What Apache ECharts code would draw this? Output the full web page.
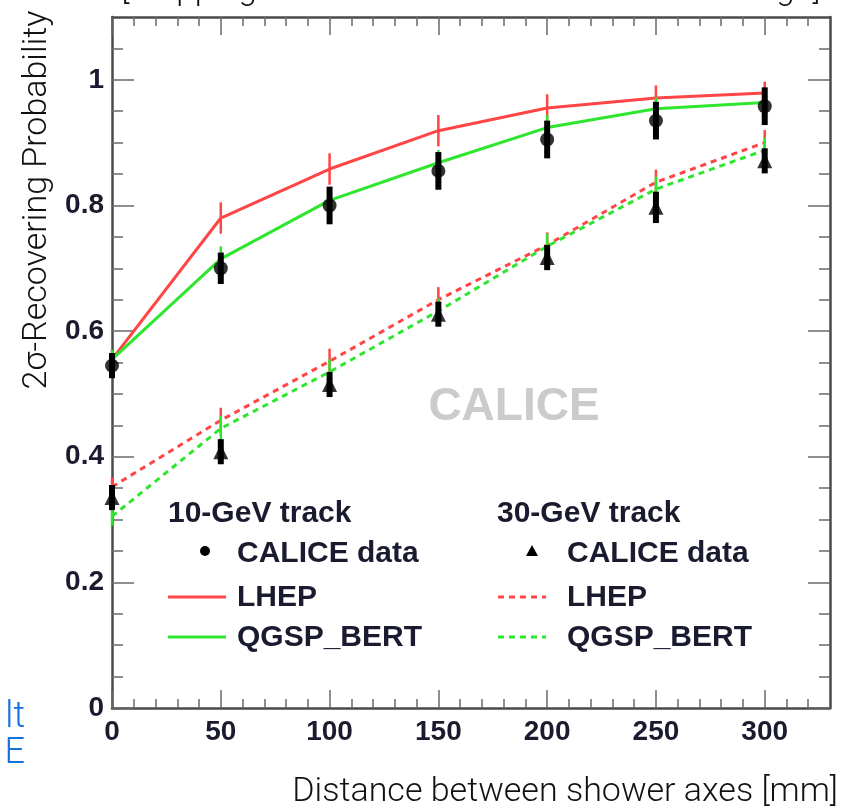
<!DOCTYPE html>
<html><head><meta charset="utf-8">
<script src="https://cdn.jsdelivr.net/npm/echarts@6/dist/echarts.min.js"></script>
<style>html,body{margin:0;padding:0;background:#fff}#c{width:844px;height:810px}</style>
</head><body><div id="c"></div>
<script>
// ---- data ----
const xValues = [0, 50, 100, 150, 200, 250, 300];
// 10-GeV track
const data10    = [0.545, 0.700, 0.800, 0.855, 0.905, 0.935, 0.958];
const data10Err = [0.020, 0.025, 0.030, 0.030, 0.030, 0.030, 0.030];
const lhep10    = [0.555, 0.780, 0.858, 0.919, 0.955, 0.971, 0.979];
const lhep10Err = [0.015, 0.025, 0.025, 0.025, 0.022, 0.020, 0.018];
const qgsp10    = [0.555, 0.715, 0.808, 0.868, 0.924, 0.954, 0.964];
const qgsp10Err = [0.015, 0.020, 0.020, 0.020, 0.020, 0.018, 0.018];
// 30-GeV track
const data30    = [0.335, 0.408, 0.515, 0.627, 0.717, 0.797, 0.871];
const data30Err = [0.020, 0.020, 0.020, 0.020, 0.020, 0.025, 0.020];
const lhep30    = [0.352, 0.458, 0.552, 0.650, 0.737, 0.837, 0.900];
const lhep30Err = [0.015, 0.020, 0.020, 0.020, 0.020, 0.020, 0.020];
const qgsp30    = [0.305, 0.445, 0.535, 0.632, 0.735, 0.826, 0.888];
const qgsp30Err = [0.015, 0.020, 0.020, 0.020, 0.020, 0.020, 0.020];
// ticks
const xMajorTicks = [0, 50, 100, 150, 200, 250, 300];
const xMinorTicks = [10, 20, 30, 40, 60, 70, 80, 90, 110, 120, 130, 140, 160, 170, 180, 190, 210, 220, 230, 240, 260, 270, 280, 290, 310, 320];
const yMajorTicks = [0, 0.2, 0.4, 0.6, 0.8, 1];
const yMinorTicks = [0.05, 0.1, 0.15, 0.25, 0.3, 0.35, 0.45, 0.5, 0.55, 0.65, 0.7, 0.75, 0.85, 0.9, 0.95, 1.05];
// texts
const titleText = '[mapping real test beam data to detector design]';
const yName = '2σ-Recovering Probability';
const xName = 'Distance between shower axes [mm]';

// ---- style ----
const RED = '#ff4545', GREEN = '#2ee62e', FRAME = '#4a4a4a', TICK = '#6a6a6a';
const LBL = '#1b1b30';
const tickFont = {fontFamily: 'Liberation Sans', fontWeight: 'bold', fontSize: 28, color: LBL};
const lightFont = 'Roboto';

function pairs(vals) { return xValues.map((x, i) => [x, vals[i]]); }
function errData(vals, errs) { return xValues.map((x, i) => [x, vals[i] - errs[i], vals[i] + errs[i]]); }
function errSeries(vals, errs, color, width, z) {
  return {
    type: 'custom', z: z, silent: true,
    data: errData(vals, errs),
    encode: {x: 0, y: [1, 2]},
    renderItem: (params, api) => {
      const p1 = api.coord([api.value(0), api.value(1)]);
      const p2 = api.coord([api.value(0), api.value(2)]);
      return {type: 'line', shape: {x1: p1[0], y1: p1[1], x2: p2[0], y2: p2[1]},
              style: {stroke: color, lineWidth: width}};
    }
  };
}
function lineSeries(vals, color, dashed) {
  return {type: 'line', data: pairs(vals), showSymbol: false, symbol: 'none', z: 2, silent: true,
          lineStyle: {color: color, width: 3, type: dashed ? [6, 5] : 'solid'}};
}

function xAx(pos, ticks, len, labels, line) {
  return {type: 'value', min: 0, max: 330, position: pos, gridIndex: 0,
    axisLine: {show: line, onZero: false, lineStyle: {color: FRAME, width: 2.5}},
    axisTick: {show: true, inside: true, length: len, customValues: ticks, lineStyle: {color: TICK, width: 1.5}},
    axisLabel: labels ? Object.assign({show: true, margin: 10, customValues: ticks}, tickFont) : {show: false},
    splitLine: {show: false}};
}
function yAx(pos, ticks, len, labels, line) {
  return {type: 'value', min: 0, max: 1.1, position: pos, gridIndex: 0,
    axisLine: {show: line, onZero: false, lineStyle: {color: FRAME, width: 2.5}},
    axisTick: {show: true, inside: true, length: len, customValues: ticks, lineStyle: {color: TICK, width: 1.5}},
    axisLabel: labels ? Object.assign({show: true, margin: 8, customValues: ticks,
        formatter: v => String(Math.round(v * 10) / 10)}, tickFont) : {show: false},
    splitLine: {show: false}};
}

const legendFont = {fontFamily: 'Liberation Sans', fontWeight: 'bold', fontSize: 30, fill: LBL};
function gText(x, y, t, extra) {
  return {type: 'text', x: x, y: y, silent: true,
    style: Object.assign({text: t, textAlign: 'left', textVerticalAlign: 'middle', align: 'left', verticalAlign: 'middle'}, legendFont, extra || {})};
}

const chart = echarts.init(document.getElementById('c'), null, {renderer: 'canvas'});
chart.setOption({
  animation: false,
  backgroundColor: '#ffffff',
  grid: {left: 112, right: 14, top: 17, bottom: 102, containLabel: false},
  xAxis: [
    xAx('bottom', xMajorTicks, 18, true, true),
    xAx('bottom', xMinorTicks, 9, false, false),
    xAx('top', xMajorTicks, 18, false, true),
    xAx('top', xMinorTicks, 9, false, false)
  ],
  yAxis: [
    yAx('left', yMajorTicks, 22, true, true),
    yAx('left', yMinorTicks, 11, false, false),
    yAx('right', yMajorTicks, 22, false, true),
    yAx('right', yMinorTicks, 11, false, false)
  ],
  series: [
    lineSeries(lhep10, RED, false),
    lineSeries(qgsp10, GREEN, false),
    lineSeries(lhep30, RED, true),
    lineSeries(qgsp30, GREEN, true),
    errSeries(lhep10, lhep10Err, RED, 2.5, 3),
    errSeries(qgsp10, qgsp10Err, GREEN, 2.5, 3),
    errSeries(lhep30, lhep30Err, RED, 2.5, 3),
    errSeries(qgsp30, qgsp30Err, GREEN, 2.5, 3),
    errSeries(data10, data10Err, '#000', 6, 5),
    errSeries(data30, data30Err, '#000', 6, 5),
    {type: 'scatter', data: pairs(data10), symbol: 'circle', symbolSize: 14, z: 6, silent: true,
     itemStyle: {color: '#000'}},
    {type: 'scatter', data: pairs(data30), symbol: 'triangle', symbolSize: 15, z: 6, silent: true,
     itemStyle: {color: '#000'}}
  ],
  graphic: [
    // slide texts
    {type: 'text', x: 471, y: -9, silent: true, style: {text: titleText, fontFamily: lightFont, fontWeight: 300, fontSize: 33, fill: '#111',
      textAlign: 'center', textVerticalAlign: 'middle', align: 'center', verticalAlign: 'middle'}},
    {type: 'text', x: 37, y: 200, rotation: Math.PI / 2, silent: true, style: {text: yName, fontFamily: lightFont, fontWeight: 300, fontSize: 34, fill: '#111',
      textAlign: 'center', textVerticalAlign: 'middle', align: 'center', verticalAlign: 'middle'}},
    {type: 'text', x: 838, y: 792, silent: true, style: {text: xName, fontFamily: lightFont, fontWeight: 300, fontSize: 34, fill: '#111',
      textAlign: 'right', textVerticalAlign: 'middle', align: 'right', verticalAlign: 'middle'}},
    {type: 'text', x: 25, y: 718, silent: true, style: {text: 'lt', fontFamily: lightFont, fontWeight: 300, fontSize: 36, fill: '#1670e0',
      textAlign: 'right', textVerticalAlign: 'middle', align: 'right', verticalAlign: 'middle'}},
    {type: 'text', x: 25, y: 754, silent: true, style: {text: 'E', fontFamily: lightFont, fontWeight: 300, fontSize: 36, fill: '#1670e0',
      textAlign: 'right', textVerticalAlign: 'middle', align: 'right', verticalAlign: 'middle'}},
    // watermark
    {type: 'text', x: 514, y: 407, z: -1, silent: true, style: {text: 'CALICE', fontFamily: 'Liberation Sans', fontWeight: 'bold', fontSize: 46, fill: '#cbcbcb',
      textAlign: 'center', textVerticalAlign: 'middle', align: 'center', verticalAlign: 'middle'}},
    // legend
    gText(168, 514, '10-GeV track'),
    gText(497, 514, '30-GeV track'),
    {type: 'circle', shape: {cx: 205, cy: 551, r: 5}, style: {fill: '#000'}, silent: true},
    gText(237, 554, 'CALICE data'),
    {type: 'polygon', shape: {points: [[532, 545], [526, 556], [538, 556]]}, style: {fill: '#000'}, silent: true},
    gText(567, 554, 'CALICE data'),
    {type: 'line', shape: {x1: 168, y1: 597, x2: 226, y2: 597}, style: {stroke: RED, lineWidth: 3}, silent: true},
    gText(237, 598, 'LHEP'),
    {type: 'line', shape: {x1: 498, y1: 597, x2: 546, y2: 597}, style: {stroke: RED, lineWidth: 3, lineDash: [6, 5]}, silent: true},
    gText(567, 598, 'LHEP'),
    {type: 'line', shape: {x1: 168, y1: 637, x2: 226, y2: 637}, style: {stroke: GREEN, lineWidth: 3}, silent: true},
    gText(237, 638, 'QGSP_BERT'),
    {type: 'line', shape: {x1: 498, y1: 637, x2: 546, y2: 637}, style: {stroke: GREEN, lineWidth: 3, lineDash: [6, 5]}, silent: true},
    gText(567, 638, 'QGSP_BERT')
  ]
});
</script></body></html>
